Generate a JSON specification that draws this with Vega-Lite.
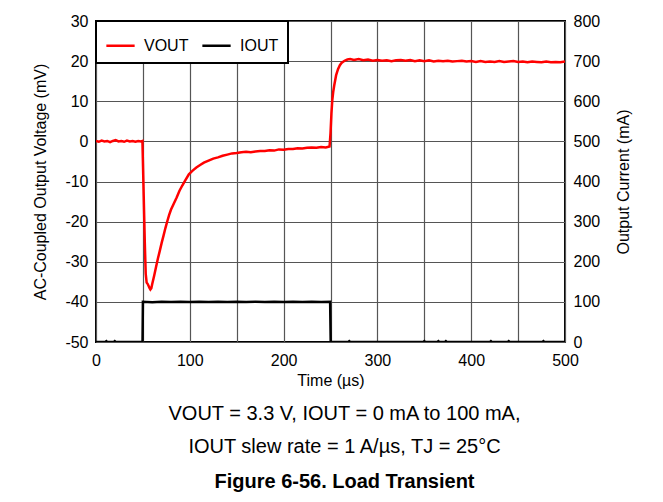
{
  "$schema": "https://vega.github.io/schema/vega-lite/v6.json",
  "width": 469,
  "height": 321,
  "autosize": {"type": "none"},
  "padding": {"left": 96, "top": 21, "right": 98, "bottom": 160},
  "background": "white",
  "datasets": {
    "vout": [
      {"t": 0, "mv": 0.1}, {"t": 3, "mv": -0.1}, {"t": 6, "mv": 0.2}, {"t": 9, "mv": 0.0}, {"t": 12, "mv": 0.1},
      {"t": 15, "mv": -0.2}, {"t": 18, "mv": 0.1}, {"t": 21, "mv": 0.3}, {"t": 24, "mv": 0.0}, {"t": 27, "mv": 0.1},
      {"t": 30, "mv": -0.1}, {"t": 33, "mv": 0.2}, {"t": 36, "mv": 0.0}, {"t": 39, "mv": 0.1}, {"t": 42, "mv": -0.1},
      {"t": 45, "mv": 0.1}, {"t": 48, "mv": 0.0}, {"t": 49.5, "mv": 0.1}, {"t": 50, "mv": -5}, {"t": 51, "mv": -15},
      {"t": 52, "mv": -25}, {"t": 53, "mv": -33}, {"t": 54, "mv": -35.2}, {"t": 55, "mv": -35.5}, {"t": 56, "mv": -36.0},
      {"t": 57, "mv": -36.5}, {"t": 58, "mv": -36.9}, {"t": 59, "mv": -36.6}, {"t": 60, "mv": -35.5}, {"t": 62, "mv": -33.5},
      {"t": 64, "mv": -31.3}, {"t": 66, "mv": -29.2}, {"t": 68, "mv": -27.3}, {"t": 70, "mv": -25.3}, {"t": 72, "mv": -23.5},
      {"t": 74, "mv": -21.6}, {"t": 76, "mv": -19.9}, {"t": 78, "mv": -18.3}, {"t": 80, "mv": -17.0}, {"t": 83, "mv": -15.5},
      {"t": 86, "mv": -14.0}, {"t": 89, "mv": -12.3}, {"t": 92, "mv": -11.0}, {"t": 95, "mv": -9.8}, {"t": 99, "mv": -8.2},
      {"t": 103, "mv": -7.3}, {"t": 107, "mv": -6.5}, {"t": 111, "mv": -5.9}, {"t": 115, "mv": -5.3}, {"t": 120, "mv": -4.8},
      {"t": 125, "mv": -4.3}, {"t": 130, "mv": -4.0}, {"t": 135, "mv": -3.6}, {"t": 140, "mv": -3.3}, {"t": 145, "mv": -3.0},
      {"t": 150, "mv": -2.9}, {"t": 155, "mv": -2.7}, {"t": 160, "mv": -2.6}, {"t": 165, "mv": -2.7}, {"t": 170, "mv": -2.5},
      {"t": 175, "mv": -2.4}, {"t": 180, "mv": -2.4}, {"t": 185, "mv": -2.2}, {"t": 190, "mv": -2.3}, {"t": 195, "mv": -2.0},
      {"t": 200, "mv": -2.1}, {"t": 205, "mv": -1.9}, {"t": 210, "mv": -1.9}, {"t": 215, "mv": -1.7}, {"t": 220, "mv": -1.8},
      {"t": 225, "mv": -1.6}, {"t": 230, "mv": -1.5}, {"t": 235, "mv": -1.6}, {"t": 240, "mv": -1.4}, {"t": 245, "mv": -1.5},
      {"t": 249, "mv": -1.3}, {"t": 250, "mv": 2}, {"t": 251, "mv": 7}, {"t": 252, "mv": 10.5}, {"t": 253, "mv": 12.5},
      {"t": 254, "mv": 14}, {"t": 256, "mv": 16.5}, {"t": 258, "mv": 18.0}, {"t": 260, "mv": 19.0}, {"t": 262, "mv": 19.6},
      {"t": 265, "mv": 20.1}, {"t": 268, "mv": 20.4}, {"t": 271, "mv": 20.5}, {"t": 275, "mv": 20.3}, {"t": 280, "mv": 20.5},
      {"t": 285, "mv": 20.2}, {"t": 290, "mv": 20.4}, {"t": 295, "mv": 20.1}, {"t": 300, "mv": 20.3}, {"t": 305, "mv": 20.1},
      {"t": 310, "mv": 20.2}, {"t": 315, "mv": 20.0}, {"t": 320, "mv": 20.2}, {"t": 325, "mv": 20.3}, {"t": 330, "mv": 20.1},
      {"t": 335, "mv": 20.3}, {"t": 340, "mv": 20.0}, {"t": 345, "mv": 20.2}, {"t": 350, "mv": 20.0}, {"t": 355, "mv": 20.2},
      {"t": 360, "mv": 19.9}, {"t": 365, "mv": 20.1}, {"t": 370, "mv": 20.0}, {"t": 375, "mv": 20.1}, {"t": 380, "mv": 19.9},
      {"t": 385, "mv": 20.0}, {"t": 390, "mv": 20.1}, {"t": 395, "mv": 19.9}, {"t": 400, "mv": 20.0}, {"t": 405, "mv": 19.8},
      {"t": 410, "mv": 20.0}, {"t": 415, "mv": 19.8}, {"t": 420, "mv": 19.9}, {"t": 425, "mv": 19.8}, {"t": 430, "mv": 20.0},
      {"t": 435, "mv": 19.8}, {"t": 440, "mv": 19.9}, {"t": 445, "mv": 20.0}, {"t": 450, "mv": 19.8}, {"t": 455, "mv": 19.9},
      {"t": 460, "mv": 19.7}, {"t": 465, "mv": 19.9}, {"t": 470, "mv": 19.8}, {"t": 475, "mv": 19.7}, {"t": 480, "mv": 19.9},
      {"t": 485, "mv": 19.7}, {"t": 490, "mv": 19.8}, {"t": 495, "mv": 19.7}, {"t": 500, "mv": 19.9}
    ],
    "iout": [
      {"t": 0, "ma": 0}, {"t": 10, "ma": 0}, {"t": 11, "ma": 2}, {"t": 12, "ma": 0}, {"t": 19, "ma": 0},
      {"t": 20, "ma": 2}, {"t": 21, "ma": 0}, {"t": 49.6, "ma": 0}, {"t": 50, "ma": 100}, {"t": 60, "ma": 99.2},
      {"t": 70, "ma": 100.4}, {"t": 80, "ma": 99.5}, {"t": 90, "ma": 100.3}, {"t": 100, "ma": 99.4}, {"t": 110, "ma": 100.2},
      {"t": 120, "ma": 99.6}, {"t": 130, "ma": 100.4}, {"t": 140, "ma": 99.5}, {"t": 150, "ma": 100.1}, {"t": 160, "ma": 99.4},
      {"t": 170, "ma": 100.3}, {"t": 180, "ma": 99.6}, {"t": 190, "ma": 100.2}, {"t": 200, "ma": 99.5}, {"t": 210, "ma": 100.3},
      {"t": 220, "ma": 99.6}, {"t": 230, "ma": 100.4}, {"t": 240, "ma": 99.7}, {"t": 249.6, "ma": 100}, {"t": 250.2, "ma": 0},
      {"t": 269, "ma": 0}, {"t": 270, "ma": 2}, {"t": 271, "ma": 0}, {"t": 349, "ma": 0}, {"t": 350, "ma": 2},
      {"t": 351, "ma": 0}, {"t": 364, "ma": 0}, {"t": 365, "ma": 2}, {"t": 366, "ma": 0}, {"t": 372, "ma": 0},
      {"t": 373, "ma": 2}, {"t": 374, "ma": 0}, {"t": 420, "ma": 0}, {"t": 421, "ma": 2}, {"t": 422, "ma": 0},
      {"t": 439, "ma": 0}, {"t": 440, "ma": 2}, {"t": 441, "ma": 0}, {"t": 476, "ma": 0}, {"t": 477, "ma": 2},
      {"t": 478, "ma": 0}, {"t": 500, "ma": 0}
    ]
  },
  "title": {
    "text": ["VOUT = 3.3 V, IOUT = 0 mA to 100 mA,", "IOUT slew rate = 1 A/µs, TJ = 25°C"],
    "subtitle": "Figure 6-56. Load Transient",
    "orient": "bottom",
    "anchor": "middle",
    "dx": 14,
    "font": "Liberation Sans",
    "fontSize": 20,
    "fontWeight": "normal",
    "color": "black",
    "lineHeight": 33,
    "offset": 16,
    "subtitleFont": "Liberation Sans",
    "subtitleFontSize": 20,
    "subtitleFontWeight": "bold",
    "subtitleColor": "black",
    "subtitlePadding": 15
  },
  "layer": [
    {
      "data": {"name": "vout"},
      "mark": {"type": "line", "strokeWidth": 2.5, "clip": true},
      "encoding": {
        "x": {
          "field": "t", "type": "quantitative",
          "scale": {"domain": [0, 500], "nice": false},
          "axis": {
            "values": [0, 50, 100, 150, 200, 250, 300, 350, 400, 450, 500],
            "labelExpr": "datum.value % 100 == 0 ? toString(datum.value) : ''",
            "labelFlush": false,
            "title": "Time (µs)",
            "titlePadding": 4
          }
        },
        "y": {
          "field": "mv", "type": "quantitative",
          "scale": {"domain": [-50, 30], "nice": false},
          "axis": {
            "values": [-50, -40, -30, -20, -10, 0, 10, 20, 30],
            "labelExpr": "toString(datum.value)",
            "title": "AC-Coupled Output Voltage (mV)",
            "titlePadding": 16
          }
        },
        "color": {
          "datum": "VOUT",
          "scale": {"domain": ["VOUT", "IOUT"], "range": ["#ff0000", "#000000"]},
          "legend": {
            "title": null,
            "orient": "top-left",
            "offset": 0,
            "direction": "horizontal",
            "symbolType": "stroke",
            "symbolSize": 800,
            "symbolStrokeWidth": 2.5,
            "labelFont": "Liberation Sans",
            "labelFontSize": 16,
            "labelColor": "black",
            "fillColor": "white",
            "strokeColor": "black",
            "padding": 9,
            "columnPadding": 8,
            "labelOffset": 8,
            "encode": {"legend": {"update": {"strokeWidth": {"value": 2}}}}
          }
        }
      }
    },
    {
      "data": {"name": "iout"},
      "mark": {"type": "line", "strokeWidth": 2.5, "clip": true},
      "encoding": {
        "x": {"field": "t", "type": "quantitative"},
        "y": {
          "field": "ma", "type": "quantitative",
          "scale": {"domain": [0, 800], "nice": false},
          "axis": {
            "orient": "right",
            "values": [0, 100, 200, 300, 400, 500, 600, 700, 800],
            "labelExpr": "toString(datum.value)",
            "grid": false,
            "title": "Output Current (mA)",
            "titleAngle": 270,
            "titleBaseline": "top",
            "titlePadding": 16
          }
        },
        "color": {"datum": "IOUT"}
      }
    }
  ],
  "resolve": {"scale": {"y": "independent"}},
  "config": {
    "font": "Liberation Sans",
    "view": {"stroke": "black", "strokeWidth": 2},
    "axis": {
      "domain": false,
      "ticks": false,
      "grid": true,
      "gridColor": "#555555",
      "gridWidth": 1.2,
      "gridOpacity": 1,
      "labelFont": "Liberation Sans",
      "labelFontSize": 16,
      "labelColor": "black",
      "labelPadding": 8,
      "titleFont": "Liberation Sans",
      "titleFontSize": 16,
      "titleFontWeight": "normal",
      "titleColor": "black"
    },
    "axisX": {"labelPadding": 10}
  }
}
